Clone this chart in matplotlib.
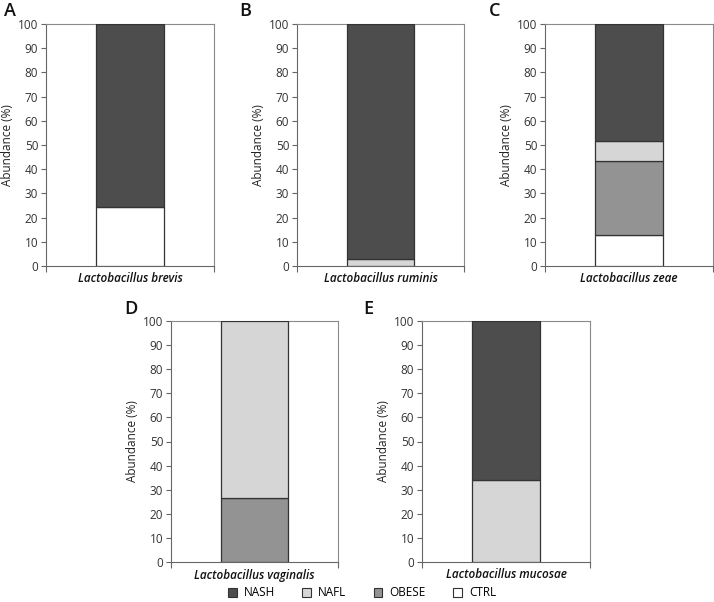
import matplotlib.pyplot as plt
from matplotlib.patches import Patch

plt.rcParams['font.family'] = ['Open Sans', 'DejaVu Sans']

# data (stack order bottom -> top)
groups = ['CTRL', 'OBESE', 'NAFL', 'NASH']
colors = {'NASH': '#4d4d4d', 'NAFL': '#d6d6d6', 'OBESE': '#939393', 'CTRL': '#ffffff'}

letters = ['A', 'B', 'C', 'D', 'E']
species = ['Lactobacillus brevis', 'Lactobacillus ruminis', 'Lactobacillus zeae',
           'Lactobacillus vaginalis', 'Lactobacillus mucosae']
ctrl = [24.5, 0, 13, 0, 0]
obese = [0, 0, 30.5, 26.5, 0]
nafl = [0, 3, 8, 73.5, 34]
nash = [75.5, 97, 48.5, 0, 66]
values = {'CTRL': ctrl, 'OBESE': obese, 'NAFL': nafl, 'NASH': nash}

W, H = 714, 602
fig = plt.figure(figsize=(W / 100, H / 100), dpi=100)

# axes boxes in pixels: left, top, right, bottom
boxes = [(46, 24, 214, 266), (297, 24, 464, 266), (545, 24, 713, 266),
         (171, 321, 338, 562), (422, 321, 590, 562)]
letter_pos = [(4, 11), (239, 11), (489, 11), (124, 309), (363, 309)]

for i, (l, t, r, b) in enumerate(boxes):
    ax = fig.add_axes([l / W, 1 - b / H, (r - l) / W, (b - t) / H])
    bottom = 0
    for g in groups:
        v = values[g][i]
        if v > 0:
            ax.bar(0, v, width=0.405, bottom=bottom, color=colors[g],
                   edgecolor='#333333', linewidth=0.9, zorder=3)
        bottom += v
    ax.set_xlim(-0.5, 0.5)
    ax.set_ylim(0, 100)
    ax.set_yticks(range(0, 101, 10))
    ax.set_xticks([-0.5, 0.5])
    ax.set_xticklabels([])
    ax.tick_params(axis='y', length=3.5, width=0.8, colors='#666666',
                   labelcolor='#333333', labelsize=8.5, pad=2)
    ax.tick_params(axis='x', length=4, width=0.8, colors='#666666')
    for s in ax.spines.values():
        s.set_color('#8a8a8a')
        s.set_linewidth(0.8)
    ax.spines['left'].set_color('#666666')
    ax.spines['bottom'].set_color('#666666')
    ax.set_ylabel('Abundance (%)', fontsize=8.5, color='#222222', labelpad=3)
    ax.set_xlabel(species[i], fontsize=8.5, style='italic', weight='semibold',
                  color='#111111', va='center')
    ax.xaxis.set_label_coords(0.5, -13 / (b - t))
    lx, ly = letter_pos[i]
    fig.text(lx / W, 1 - ly / H, letters[i], fontsize=13, weight='semibold',
             ha='left', va='center', color='#111111')

handles = [Patch(facecolor=colors[g], edgecolor='#333333', linewidth=0.8)
           for g in ['NASH', 'NAFL', 'OBESE', 'CTRL']]
fig.legend(handles, ['NASH', 'NAFL', 'OBESE', 'CTRL'], loc='center',
           bbox_to_anchor=(362 / W, 1 - 593 / H), ncol=4, frameon=False,
           fontsize=8.5, handlelength=0.75, handleheight=0.75,
           handletextpad=0.6, columnspacing=2.3, borderpad=0)

fig.savefig('out.png', dpi=100, facecolor='white')
